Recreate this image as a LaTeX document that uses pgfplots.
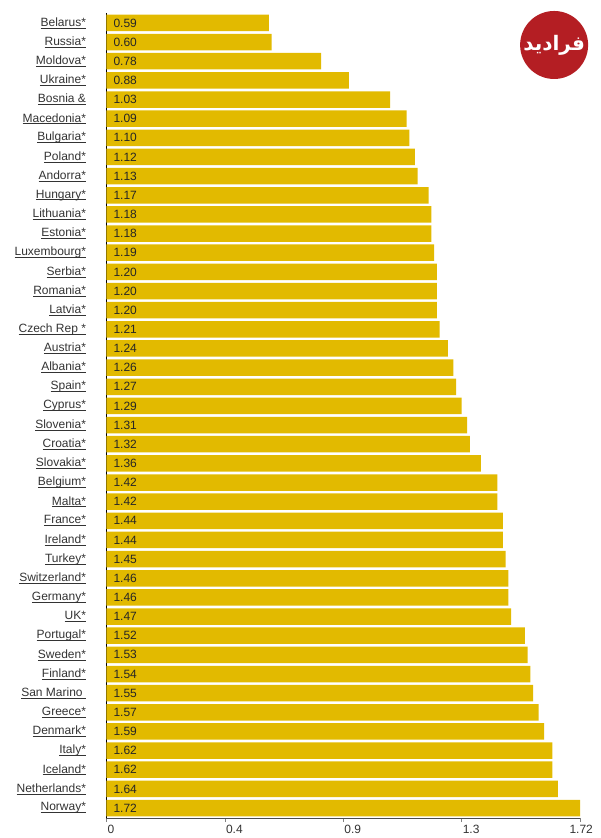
\documentclass[border=0pt]{standalone}
\usepackage{pgfplots}
\pgfplotsset{compat=1.18}
\usepackage{pgfplotstable}
\usepackage{fontspec}
\setmainfont{Liberation Sans}
\newfontfamily\arabicfont[Script=Arabic]{DejaVu Sans}
\TeXXeTstate=1
\definecolor{barc}{RGB}{226,186,0}
\definecolor{txt}{RGB}{51,51,51}
\definecolor{logo}{RGB}{180,30,35}
\newcommand\ul[1]{\setbox0\hbox{#1}\rlap{\color{txt}\rule[-2pt]{\wd0}{0.7pt}}\box0}
\pgfplotstableread[col sep=comma]{
idx,v
41,0.59
40,0.60
39,0.78
38,0.88
37,1.03
36,1.09
35,1.10
34,1.12
33,1.13
32,1.17
31,1.18
30,1.18
29,1.19
28,1.20
27,1.20
26,1.20
25,1.21
24,1.24
23,1.26
22,1.27
21,1.29
20,1.31
19,1.32
18,1.36
17,1.42
16,1.42
15,1.44
14,1.44
13,1.45
12,1.46
11,1.46
10,1.47
9,1.52
8,1.53
7,1.54
6,1.55
5,1.57
4,1.59
3,1.62
2,1.62
1,1.64
0,1.72
}\data
\begin{document}
\begin{tikzpicture}
\path[use as bounding box] (-106.5pt,-20pt) rectangle (493.5pt,818pt);
\begin{axis}[
  scale only axis, width=473.5pt, height=805pt,
  xmin=0, xmax=1.72, ymin=-0.52, ymax=41.52,
  axis lines*=left, clip=false,
  x axis line style={gray!60!black, line width=0.6pt},
  y axis line style={black, line width=1.2pt},
  tick align=outside, major tick length=4pt,
  xtick={0,0.43,0.86,1.29,1.72},
  xticklabels={0,0.4,0.9,1.3,\hbox to 0pt{\hss 1.72\hss}},
  xticklabel style={anchor=north west, inner xsep=1pt, font=\fontsize{12}{14}\selectfont, text=txt},
  xtick style={gray, line width=0.5pt},
  ytick={0,...,41},
  ytick style={draw=none},
  yticklabel style={font=\fontsize{12}{14}\selectfont, text=txt, xshift=-13pt},
  yticklabels={\ul{Norway*},\ul{Netherlands*},\ul{Iceland*},\ul{Italy*},\ul{Denmark*},\ul{Greece*},\ul{San Marino\ },\ul{Finland*},\ul{Sweden*},\ul{Portugal*},\ul{UK*},\ul{Germany*},\ul{Switzerland*},\ul{Turkey*},\ul{Ireland*},\ul{France*},\ul{Malta*},\ul{Belgium*},\ul{Slovakia*},\ul{Croatia*},\ul{Slovenia*},\ul{Cyprus*},\ul{Spain*},\ul{Albania*},\ul{Austria*},\ul{Czech Rep *},\ul{Latvia*},\ul{Romania*},\ul{Serbia*},\ul{Luxembourg*},\ul{Estonia*},\ul{Lithuania*},\ul{Hungary*},\ul{Andorra*},\ul{Poland*},\ul{Bulgaria*},\ul{Macedonia*},\ul{Bosnia \&},\ul{Ukraine*},\ul{Moldova*},\ul{Russia*},\ul{Belarus*}},
]
\addplot[xbar, bar width=16.5pt, fill=barc, draw=none] table[x=v, y=idx]{\data};
\addplot[only marks, mark=none, nodes near coords, point meta=explicit symbolic,
  nodes near coords style={anchor=west, xshift=3.5pt, font=\fontsize{12}{14}\selectfont, text=black!85}]
  table[x expr=0, y=idx, meta=v]{\data};
\node[circle, fill=logo, minimum size=68pt, inner sep=0pt, text=white,
  font=\arabicfont\bfseries\fontsize{20}{20}\selectfont] at (axis cs:1.626,39.85) {\beginR فرادید\endR};
\end{axis}
\end{tikzpicture}
\end{document}
